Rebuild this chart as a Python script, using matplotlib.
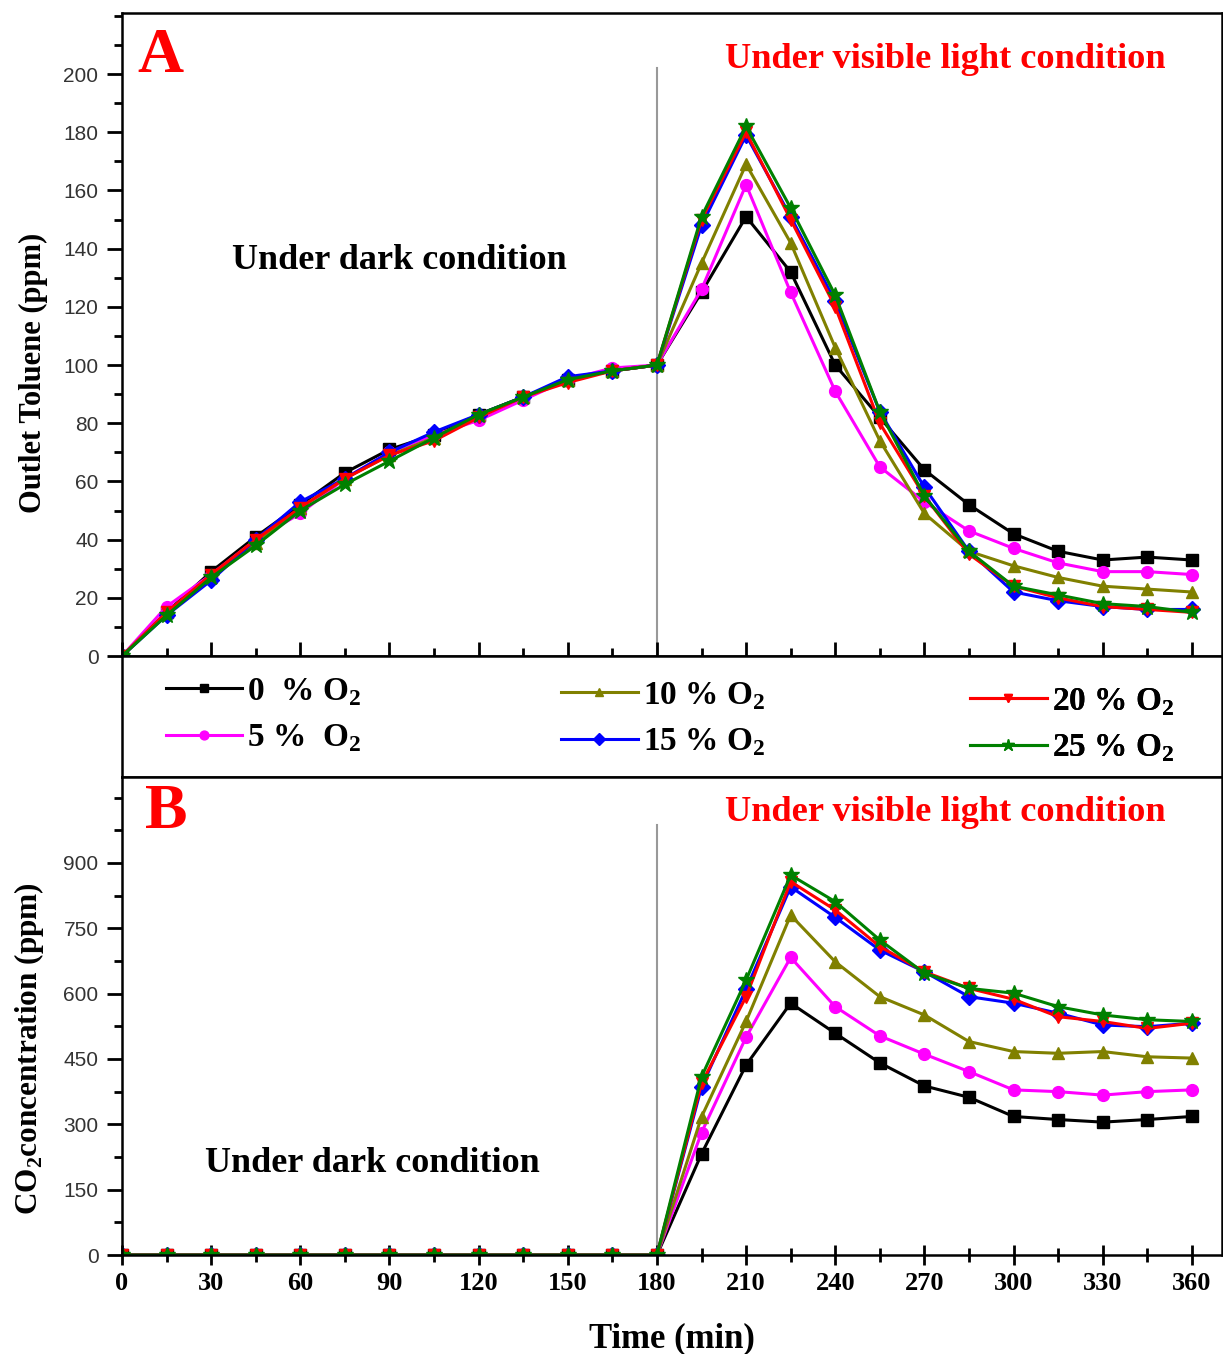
import matplotlib
matplotlib.use("Agg")
import matplotlib.pyplot as plt
from matplotlib.ticker import MultipleLocator

plt.rcParams['mathtext.fontset'] = 'custom'
plt.rcParams['mathtext.rm'] = 'Liberation Serif'
plt.rcParams['mathtext.bf'] = 'Liberation Serif:bold'

# time axis (min)
time = [0, 15, 30, 45, 60, 75, 90, 105, 120, 135, 150, 165, 180,
        195, 210, 225, 240, 255, 270, 285, 300, 315, 330, 345, 360]

labels = ['0  % O$_\\mathbf{2}$', '5 %  O$_\\mathbf{2}$', '10 % O$_\\mathbf{2}$',
          '15 % O$_\\mathbf{2}$', '20 % O$_\\mathbf{2}$', '25 % O$_\\mathbf{2}$']
colors = ['black', '#ff00ff', '#808000', '#0000ff', '#ff0000', '#008000']
markers = ['s', 'o', '^', 'D', 'v', '*']

# outlet toluene (ppm)
tol_0 = [0, 15, 29, 41, 52, 63, 71, 76, 83, 89, 95, 98, 100,
         125, 151, 132, 100, 82, 64, 52, 42, 36, 33, 34, 33]
tol_5 = [0, 17, 28, 40, 49, 61, 70, 76, 81, 88, 95, 99, 100,
         126, 162, 125, 91, 65, 53, 43, 37, 32, 29, 29, 28]
tol_10 = [0, 15, 27, 39, 51, 61, 69, 75, 83, 89, 95, 98, 100,
          135, 169, 142, 106, 74, 49, 36, 31, 27, 24, 23, 22]
tol_15 = [0, 14, 26, 40, 53, 61, 70, 77, 83, 89, 96, 98, 100,
          148, 179, 151, 122, 84, 58, 36, 22, 19, 17, 16, 16]
tol_20 = [0, 15, 28, 40, 51, 61, 69, 74, 82, 89, 94, 98, 100,
          150, 180, 150, 120, 80, 55, 35, 24, 20, 17, 16, 15]
tol_25 = [0, 14, 27, 38, 50, 59, 67, 75, 83, 89, 95, 98, 100,
          151, 182, 154, 124, 84, 55, 36, 24, 21, 18, 17, 15]

# CO2 concentration (ppm)
co2_0 = [0] * 13 + [232, 436, 578, 509, 441, 388, 362, 318, 311, 305, 311, 318]
co2_5 = [0] * 13 + [281, 500, 683, 570, 503, 461, 421, 379, 375, 367, 375, 379]
co2_10 = [0] * 13 + [317, 536, 780, 673, 593, 551, 490, 467, 463, 467, 455, 452]
co2_15 = [0] * 13 + [386, 610, 845, 775, 700, 650, 593, 578, 555, 528, 524, 532]
co2_20 = [0] * 13 + [394, 593, 857, 792, 708, 650, 612, 587, 547, 536, 520, 532]
co2_25 = [0] * 13 + [409, 631, 872, 811, 723, 647, 612, 601, 570, 551, 540, 536]

tol_all = [tol_0, tol_5, tol_10, tol_15, tol_20, tol_25]
co2_all = [co2_0, co2_5, co2_10, co2_15, co2_20, co2_25]

serif = 'Liberation Serif'
sans = 'Liberation Sans'

fig = plt.figure(figsize=(12.23, 13.54), dpi=100)
ax1 = fig.add_axes([0.0998, 0.5155, 0.899, 0.4749])
lax = fig.add_axes([0.0998, 0.4261, 0.899, 0.0894])
ax2 = fig.add_axes([0.0998, 0.0731, 0.899, 0.3530])


def style_axes(ax):
    for s in ax.spines.values():
        s.set_linewidth(1.8)
    ax.tick_params(axis='y', which='major', direction='out', length=11, width=2,
                   labelsize=15, labelcolor='#333333', pad=6)
    ax.tick_params(axis='y', which='minor', direction='out', length=6, width=2)
    for t in ax.get_yticklabels():
        t.set_family(sans)


# top panel
for ys, c, m, lab in zip(tol_all, colors, markers, labels):
    ms = 12 if m == '*' else 8.5
    ax1.plot(time, ys, color=c, marker=m, markersize=ms, lw=2.2, label=lab)
ax1.plot([180, 180], [0, 202], color='#999999', lw=1.5, zorder=0)
ax1.set_xlim(0, 370)
ax1.set_ylim(0, 221)
ax1.xaxis.set_major_locator(MultipleLocator(30))
ax1.xaxis.set_minor_locator(MultipleLocator(15))
ax1.yaxis.set_minor_locator(MultipleLocator(10))
ax1.set_yticks(range(0, 201, 20))
style_axes(ax1)
ax1.tick_params(axis='x', which='major', direction='in', length=10, width=2,
                labelbottom=False)
ax1.tick_params(axis='x', which='minor', direction='in', length=6, width=2)
ax1.set_ylabel('Outlet Toluene (ppm)', family=serif, weight='bold', fontsize=22)
ax1.yaxis.set_label_coords(-0.067, 0.44)
ax1.text(5, 206, 'A', color='red', family=serif, weight='bold', fontsize=46,
         va='center', ha='left')
ax1.text(37, 136, 'Under dark condition', family=serif, weight='bold',
         fontsize=26, va='center', ha='left')
ax1.text(203, 205, 'Under visible light condition', color='red', family=serif,
         weight='bold', fontsize=26.2, va='center', ha='left')

# legend box, one legend per column
lax.set_xticks([])
lax.set_yticks([])
for s in lax.spines.values():
    s.set_linewidth(1.8)
handles, labs = ax1.get_legend_handles_labels()
col_x = [0.0245, 0.384, 0.756]
col_y = [0.512, 0.479, 0.43]
for i in range(3):
    leg = lax.legend(handles[2 * i:2 * i + 2], labs[2 * i:2 * i + 2],
                     loc='center left', frameon=False, borderpad=0,
                     bbox_to_anchor=(col_x[i], col_y[i]), handlelength=2.3,
                     markerscale=0.75, labelspacing=0.45, handletextpad=0.15,
                     prop={'family': serif, 'weight': 'bold', 'size': 24})
    lax.add_artist(leg)

# bottom panel
for ys, c, m in zip(co2_all, colors, markers):
    ms = 12 if m == '*' else 8.5
    ax2.plot(time, ys, color=c, marker=m, markersize=ms, lw=2.2)
ax2.plot([180, 180], [0, 987], color='#999999', lw=1.5, zorder=0)
ax2.set_xlim(0, 370)
ax2.set_ylim(0, 1097)
ax2.set_xticks(range(0, 361, 30))
ax2.xaxis.set_minor_locator(MultipleLocator(15))
ax2.set_yticks(range(0, 901, 150))
ax2.yaxis.set_minor_locator(MultipleLocator(75))
style_axes(ax2)
ax2.tick_params(axis='x', which='major', direction='inout', length=14, width=2,
                labelsize=19, pad=5)
ax2.tick_params(axis='x', which='minor', direction='inout', length=10, width=2)
for t in ax2.get_xticklabels():
    t.set_family(serif)
    t.set_weight('bold')
ax2.set_ylabel('CO$_\\mathbf{2}$concentration (ppm)', family=serif,
               weight='bold', fontsize=22.5)
ax2.yaxis.set_label_coords(-0.069, 0.433)
ax2.set_xlabel('Time (min)', family=serif, weight='bold', fontsize=25,
               labelpad=20)
ax2.text(7.7, 1015, 'B', color='red', family=serif, weight='bold', fontsize=46,
         va='center', ha='left')
ax2.text(28, 211, 'Under dark condition', family=serif, weight='bold',
         fontsize=26, va='center', ha='left')
ax2.text(203, 1015, 'Under visible light condition', color='red', family=serif,
         weight='bold', fontsize=26.2, va='center', ha='left')

fig.savefig('out.png', dpi=100)
